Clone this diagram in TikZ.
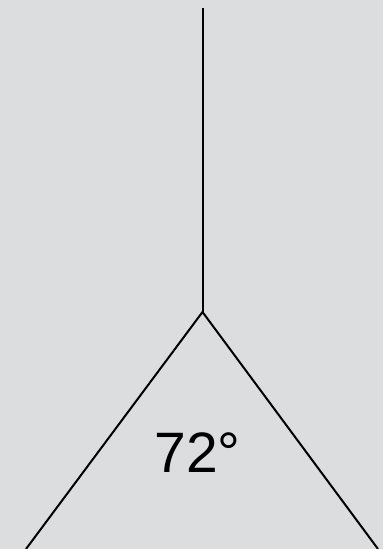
\documentclass[tikz,border=0pt]{standalone}
\usepackage{fontspec}
\setmainfont{Liberation Sans}
\definecolor{bg}{HTML}{DCDDDF}
\begin{document}
\begin{tikzpicture}[x=1pt,y=1pt,
  edge/.style={line width=2pt,black,line cap=butt,line join=miter},
  lbl/.style={inner sep=0pt,font=\fontsize{57}{60}\selectfont}]
\fill[bg] (0,0) rectangle (383,549);
\useasboundingbox (0,0) rectangle (383,549);
\coordinate (top) at (202.5,541);
\coordinate (apex) at (202.5,237);
\coordinate (bl) at (26,0);
\coordinate (br) at (378,0);
\draw[edge] (top) -- (apex);
\draw[edge] (bl) -- (apex) -- (br);
\node[lbl,anchor=base] (ang) at (197.5,76) {72°};
\end{tikzpicture}
\end{document}
